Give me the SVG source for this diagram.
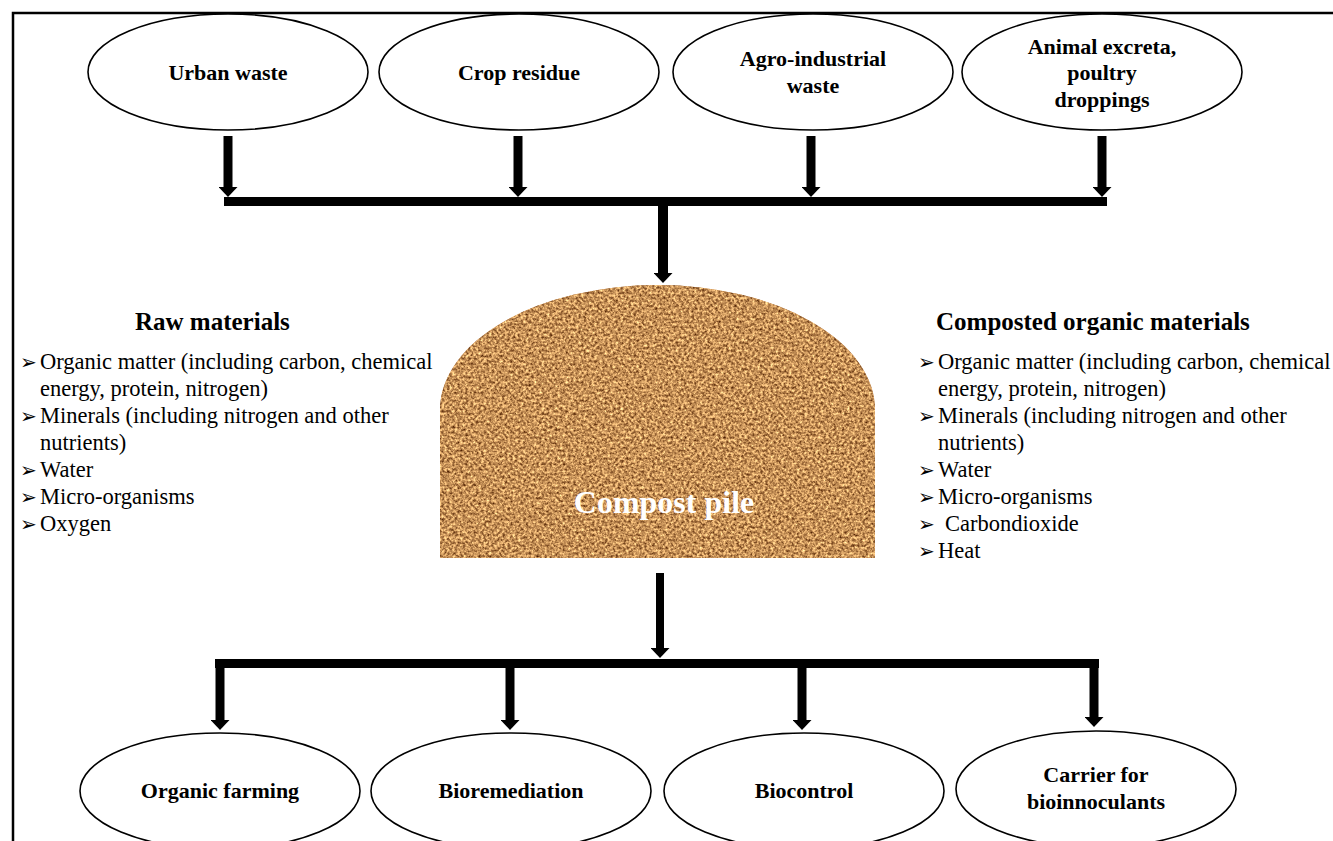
<svg xmlns="http://www.w3.org/2000/svg" width="1333" height="841" viewBox="0 0 1333 841">
<defs>
<style>
.node ellipse{fill:#fff;stroke:#000;stroke-width:1.6}
.conn line{stroke:#000}
.bar{fill:#000}
</style>
<marker id="ah" viewBox="0 0 10 19" markerWidth="10" markerHeight="19" refX="0" refY="9.5" orient="auto" markerUnits="userSpaceOnUse">
<path d="M0,0 L10,9.5 L0,19 Z" fill="#000"/>
</marker>
<clipPath id="pileClip">
<path d="M440,558 L440,410 A217.5,125 0 0 1 875,410 L875,558 Z"/>
</clipPath>
<filter id="grain" filterUnits="userSpaceOnUse" x="440" y="285" width="435" height="273" color-interpolation-filters="sRGB">
<feTurbulence type="fractalNoise" baseFrequency="0.38" numOctaves="4" seed="7" result="n"/>
<feColorMatrix in="n" type="matrix" values="1.15 0 0 0 0.2  1.1 0 0 0 0.02  0.85 0 0 0 -0.08  0 0 0 0 1"/>
</filter>
</defs>
<rect x="0" y="0" width="1333" height="841" fill="#fff"/>
<rect x="13" y="13" width="1340" height="840" fill="none" stroke="#000" stroke-width="2.5"/>

<g font-weight="bold" font-size="22" fill="#000" text-anchor="middle">
<g id="urban-waste" class="node"><ellipse cx="228" cy="72" rx="140" ry="58"/><text x="228" y="80" font-family="Liberation Serif, Times New Roman, serif">Urban waste</text></g>
<g id="crop-residue" class="node"><ellipse cx="519" cy="72" rx="140" ry="58"/><text x="519" y="80" font-family="Liberation Serif, Times New Roman, serif">Crop residue</text></g>
<g id="agro-industrial-waste" class="node"><ellipse cx="813" cy="72" rx="140" ry="58"/><text x="813" y="66" font-family="Liberation Serif, Times New Roman, serif">Agro-industrial</text><text x="813" y="93" font-family="Liberation Serif, Times New Roman, serif">waste</text></g>
<g id="animal-excreta" class="node"><ellipse cx="1102" cy="72" rx="140" ry="58"/><text x="1102" y="54" font-family="Liberation Serif, Times New Roman, serif">Animal excreta,</text><text x="1102" y="80" font-family="Liberation Serif, Times New Roman, serif">poultry</text><text x="1102" y="107" font-family="Liberation Serif, Times New Roman, serif">droppings</text></g>
<g id="organic-farming" class="node"><ellipse cx="220" cy="791" rx="140" ry="58"/><text x="220" y="798" font-family="Liberation Serif, Times New Roman, serif">Organic farming</text></g>
<g id="bioremediation" class="node"><ellipse cx="511" cy="791" rx="140" ry="58"/><text x="511" y="798" font-family="Liberation Serif, Times New Roman, serif">Bioremediation</text></g>
<g id="biocontrol" class="node"><ellipse cx="804" cy="791" rx="140" ry="58"/><text x="804" y="798" font-family="Liberation Serif, Times New Roman, serif">Biocontrol</text></g>
<g id="carrier-bioinnoculants" class="node"><ellipse cx="1096" cy="789" rx="140" ry="58"/><text x="1096" y="782" font-family="Liberation Serif, Times New Roman, serif">Carrier for</text><text x="1096" y="809" font-family="Liberation Serif, Times New Roman, serif">bioinnoculants</text></g>
</g>

<g id="compost-pile">
<rect x="440" y="285" width="435" height="273" fill="#c48c59" clip-path="url(#pileClip)"/>
<g clip-path="url(#pileClip)"><rect x="440" y="285" width="435" height="273" filter="url(#grain)"/></g>
<text x="664" y="513" font-family="Liberation Serif, Times New Roman, serif" font-weight="bold" font-size="32" fill="#fff" text-anchor="middle">Compost pile</text>
</g>

<g id="raw-materials" font-size="22.5" fill="#000">
<text x="135" y="330" font-family="Liberation Serif, Times New Roman, serif" font-weight="bold" font-size="25">Raw materials</text>
<text x="20" y="369" font-family="DejaVu Sans, sans-serif" font-size="20">➢</text>
<text x="20" y="423" font-family="DejaVu Sans, sans-serif" font-size="20">➢</text>
<text x="20" y="477" font-family="DejaVu Sans, sans-serif" font-size="20">➢</text>
<text x="20" y="504" font-family="DejaVu Sans, sans-serif" font-size="20">➢</text>
<text x="20" y="531" font-family="DejaVu Sans, sans-serif" font-size="20">➢</text>
<text x="40" y="369" font-family="Liberation Serif, Times New Roman, serif">Organic matter (including carbon, chemical</text>
<text x="40" y="396" font-family="Liberation Serif, Times New Roman, serif">energy, protein, nitrogen)</text>
<text x="40" y="423" font-family="Liberation Serif, Times New Roman, serif">Minerals (including nitrogen and other</text>
<text x="40" y="450" font-family="Liberation Serif, Times New Roman, serif">nutrients)</text>
<text x="40" y="477" font-family="Liberation Serif, Times New Roman, serif">Water</text>
<text x="40" y="504" font-family="Liberation Serif, Times New Roman, serif">Micro-organisms</text>
<text x="40" y="531" font-family="Liberation Serif, Times New Roman, serif">Oxygen</text>
</g>

<g id="composted-organic-materials" font-size="22.5" fill="#000">
<text x="936" y="330" font-family="Liberation Serif, Times New Roman, serif" font-weight="bold" font-size="25">Composted organic materials</text>
<text x="918" y="369" font-family="DejaVu Sans, sans-serif" font-size="20">➢</text>
<text x="918" y="423" font-family="DejaVu Sans, sans-serif" font-size="20">➢</text>
<text x="918" y="477" font-family="DejaVu Sans, sans-serif" font-size="20">➢</text>
<text x="918" y="504" font-family="DejaVu Sans, sans-serif" font-size="20">➢</text>
<text x="918" y="531" font-family="DejaVu Sans, sans-serif" font-size="20">➢</text>
<text x="918" y="558" font-family="DejaVu Sans, sans-serif" font-size="20">➢</text>
<text x="938" y="369" font-family="Liberation Serif, Times New Roman, serif">Organic matter (including carbon, chemical</text>
<text x="938" y="396" font-family="Liberation Serif, Times New Roman, serif">energy, protein, nitrogen)</text>
<text x="938" y="423" font-family="Liberation Serif, Times New Roman, serif">Minerals (including nitrogen and other</text>
<text x="938" y="450" font-family="Liberation Serif, Times New Roman, serif">nutrients)</text>
<text x="938" y="477" font-family="Liberation Serif, Times New Roman, serif">Water</text>
<text x="938" y="504" font-family="Liberation Serif, Times New Roman, serif">Micro-organisms</text>
<text x="945" y="531" font-family="Liberation Serif, Times New Roman, serif">Carbondioxide</text>
<text x="938" y="558" font-family="Liberation Serif, Times New Roman, serif">Heat</text>
</g>

<g id="connectors" class="conn">
<line x1="228" y1="136" x2="228" y2="187" stroke-width="9" marker-end="url(#ah)"/>
<line x1="518" y1="136" x2="518" y2="187" stroke-width="9" marker-end="url(#ah)"/>
<line x1="811" y1="136" x2="811" y2="187" stroke-width="9" marker-end="url(#ah)"/>
<line x1="1102" y1="136" x2="1102" y2="187" stroke-width="9" marker-end="url(#ah)"/>
<rect class="bar" x="224" y="197" width="883" height="9"/>
<line x1="663" y1="206" x2="663" y2="273" stroke-width="10" marker-end="url(#ah)"/>
<line x1="660" y1="573" x2="660" y2="648" stroke-width="8" marker-end="url(#ah)"/>
<rect class="bar" x="215" y="659" width="884" height="9"/>
<line x1="220" y1="668" x2="220" y2="720" stroke-width="9" marker-end="url(#ah)"/>
<line x1="510" y1="668" x2="510" y2="720" stroke-width="9" marker-end="url(#ah)"/>
<line x1="802" y1="668" x2="802" y2="720" stroke-width="9" marker-end="url(#ah)"/>
<line x1="1094" y1="668" x2="1094" y2="717" stroke-width="9" marker-end="url(#ah)"/>
</g>
</svg>
